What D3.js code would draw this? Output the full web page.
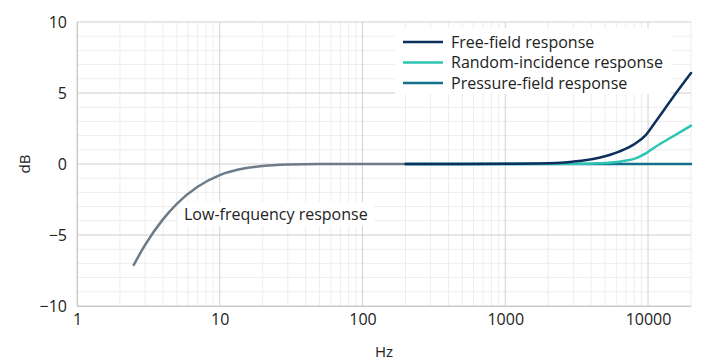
<!DOCTYPE html>
<html>
<head>
<meta charset="utf-8">
<script src="https://cdn.jsdelivr.net/npm/d3@7"></script>
<style>
  body { margin: 0; background: #fff; }
  text { font-family: "Open Sans", sans-serif; fill: #222; }
</style>
</head>
<body>
<script>
// Data

const lowFreqHz = [2.5, 3, 4, 5, 7, 10, 15, 20, 30, 50, 200];
const lowFreqDb = [-7.1, -5.7, -3.9, -2.8, -1.6, -0.78, -0.3, -0.14, -0.04, 0, 0];

const freeHz = [200, 500, 1000, 1700, 2950, 4540, 6270, 8200, 9640, 11300, 14800, 20000];
const freeDb = [0, 0, 0.01, 0.03, 0.16, 0.44, 0.87, 1.46, 2.04, 2.98, 4.63, 6.4];

const randomHz = [200, 1000, 3000, 4540, 6600, 8200, 9640, 11300, 14800, 20000];
const randomDb = [0, 0, 0.01, 0.05, 0.2, 0.4, 0.75, 1.22, 1.92, 2.7];

const pressureHz = [200, 20000];
const pressureDb = [0, 0];

const xTicks = [1, 10, 100, 1000, 10000];
const yTicks = [-10, -5, 0, 5, 10];

const seriesNames = ["Free-field response", "Random-incidence response", "Pressure-field response"];
const seriesColors = ["#0c2f5e", "#2cc4b2", "#12708c"];

// Dimensions

const width = 701;
const height = 363;
const plotLeft = 77;
const plotRight = 691;
const plotTop = 22;
const plotBottom = 306;

const svg = d3.select("body")
  .append("svg")
  .attr("width", width)
  .attr("height", height);

const x = d3.scaleLog().domain([1, 20000]).range([plotLeft, plotRight]);
const y = d3.scaleLinear().domain([-10, 10]).range([plotBottom, plotTop]);

// minor grid

const minorX = [];
for (let d = 1; d <= 10000; d *= 10) {
  for (let k = 2; k <= 9; k++) {
    if (d * k <= 20000) minorX.push(d * k);
  }
}
const minorY = d3.range(-10, 11).filter(v => v % 5 !== 0);

svg.append("g").selectAll("line")
  .data(minorX)
  .enter().append("line")
  .attr("x1", d => x(d)).attr("x2", d => x(d))
  .attr("y1", plotTop).attr("y2", plotBottom)
  .attr("stroke", "#ededed").attr("stroke-width", 1);

svg.append("g").selectAll("line")
  .data(minorY)
  .enter().append("line")
  .attr("x1", plotLeft).attr("x2", plotRight)
  .attr("y1", d => y(d)).attr("y2", d => y(d))
  .attr("stroke", "#ededed").attr("stroke-width", 1);

// major grid

svg.append("g").selectAll("line")
  .data(xTicks)
  .enter().append("line")
  .attr("x1", d => x(d)).attr("x2", d => x(d))
  .attr("y1", plotTop).attr("y2", plotBottom)
  .attr("stroke", "#d2d2d2").attr("stroke-width", 1);

svg.append("g").selectAll("line")
  .data(yTicks)
  .enter().append("line")
  .attr("x1", plotLeft).attr("x2", plotRight)
  .attr("y1", d => y(d)).attr("y2", d => y(d))
  .attr("stroke", "#cfcfcf").attr("stroke-width", 1);

// axes

const xAxis = svg.append("g")
  .attr("transform", "translate(0," + plotBottom + ")")
  .call(d3.axisBottom(x).tickValues(xTicks).tickFormat(d3.format("d")).tickSize(0).tickPadding(8));
xAxis.select(".domain").attr("stroke", "#c8c8c8");
xAxis.selectAll("text").style("font-size", "16px").attr("fill", "#222");

const yAxis = svg.append("g")
  .attr("transform", "translate(" + plotLeft + ",0)")
  .call(d3.axisLeft(y).tickValues(yTicks).tickFormat(d => d < 0 ? "\u2212" + Math.abs(d) : d).tickSize(0).tickPadding(10));
yAxis.select(".domain").attr("stroke", "#c8c8c8");
yAxis.selectAll("text").style("font-size", "16px").attr("fill", "#222");

svg.append("text")
  .attr("transform", "translate(30," + y(0) + ") rotate(-90)")
  .attr("text-anchor", "middle")
  .style("font-size", "15px")
  .text("dB");

svg.append("text")
  .attr("x", 384).attr("y", 357)
  .attr("text-anchor", "middle")
  .style("font-size", "15px")
  .text("Hz");

// low-frequency label (under the curves)

svg.append("rect")
  .attr("x", 178).attr("y", 202)
  .attr("width", 196).attr("height", 24)
  .attr("fill", "#fff");
svg.append("text")
  .attr("x", 184).attr("y", 220)
  .style("font-size", "16px")
  .text("Low-frequency response");

// lines

const line = d3.line()
  .x(d => x(d[0]))
  .y(d => y(d[1]))
  .curve(d3.curveMonotoneX);

function plot(hz, db, color) {
  svg.append("path")
    .datum(d3.zip(hz, db))
    .attr("fill", "none")
    .attr("stroke", color)
    .attr("stroke-width", 2.5)
    .attr("stroke-linecap", "round")
    .attr("d", line);
}

plot(lowFreqHz, lowFreqDb, "#6d7b88");
plot(pressureHz, pressureDb, seriesColors[2]);
plot(randomHz, randomDb, seriesColors[1]);
plot(freeHz, freeDb, seriesColors[0]);

// legend

const legend = svg.append("g");
legend.append("rect")
  .attr("x", 395).attr("y", 28)
  .attr("width", 276).attr("height", 66)
  .attr("fill", "#fff");

const rows = legend.selectAll("g")
  .data(seriesNames)
  .enter().append("g")
  .attr("transform", (d, i) => "translate(403," + (42 + i * 20.5) + ")");

rows.append("line")
  .attr("x1", 0).attr("x2", 40)
  .attr("stroke", (d, i) => seriesColors[i])
  .attr("stroke-width", 2.5);

rows.append("text")
  .attr("x", 48).attr("y", 5.5)
  .style("font-size", "16px")
  .text(d => d);
</script>
</body>
</html>
